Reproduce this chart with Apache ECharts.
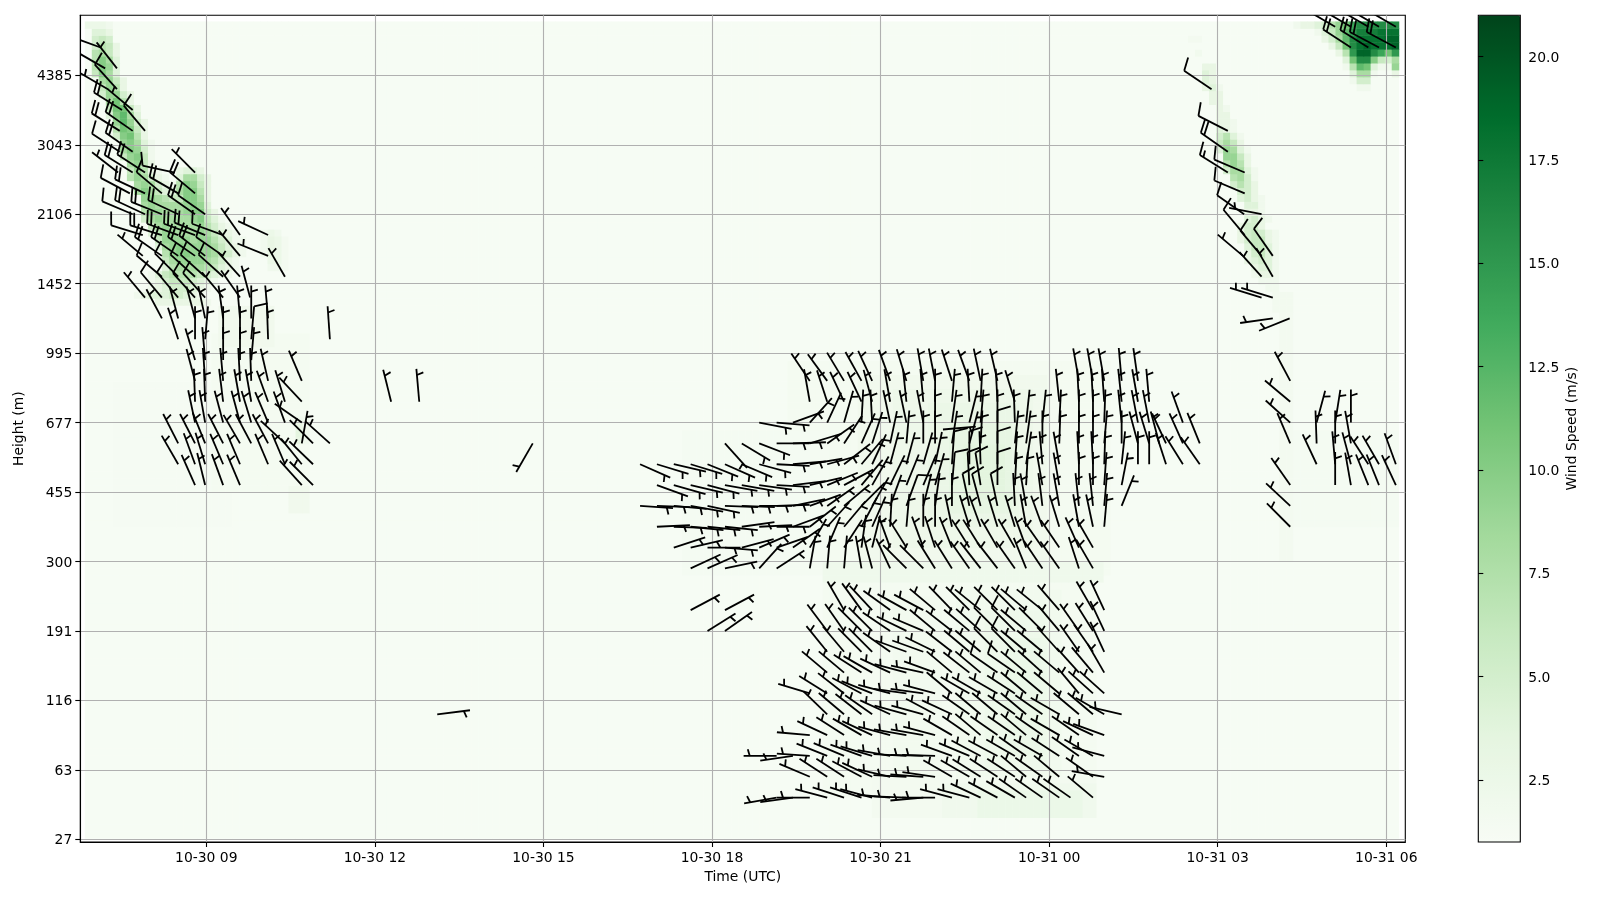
<!DOCTYPE html>
<html>
<head>
<meta charset="utf-8">
<script src="https://cdn.jsdelivr.net/npm/echarts@6/dist/echarts.min.js"></script>
<style>html,body{margin:0;padding:0;background:#fff}#c{width:1600px;height:900px}</style>
</head>
<body>
<div id="c"></div>
<script>
// ---------- tick labels ----------
const timeTicks = [9, 12, 15, 18, 21, 24, 27, 30];
const timeLabels = ['10-30 09','10-30 12','10-30 15','10-30 18','10-30 21','10-31 00','10-31 03','10-31 06'];
const heightTicks = [0,10,20,30,40,50,60,70,80,90,100,110];
const heightLabels = ['27','63','116','191','300','455','677','995','1452','2106','3043','4385'];
const speedTicks = [2.5,5,7.5,10,12.5,15,17.5,20];
const greens = ['#f7fcf5','#e5f5e0','#c7e9c0','#a1d99b','#74c476','#41ab5d','#238b45','#006d2c','#00441b'];
const baseSpeed = 1.15;

// ---------- wind speed cells: [rowFrom,rowTo,colFrom,colTo,value], faint broad areas ----------
const heatAreas = [
 [45,65,4,20,1.25],[50,72,18,31,1.45],[47,50,29,31,1.9],[71,76,19,26,1.9],
 [38,68,100,145,1.45],[38,58,85,105,1.35],[39,66,110,136,1.9],[42,64,115,134,2.3],[45,62,120,132,2.7],[47,59,123,131,3.2],[49,56,125,130,3.6],
 [37,39,105,144,2.1],[6,36,105,143,1.45],[8,34,115,121,1.7],[8,35,124,138,1.8],[10,32,128,136,2.2],[12,28,131,135,2.6],
 [3,8,112,143,1.6],[3,7,122,143,2.0],[3,6,127,141,2.6],
 [40,75,170,171,1.6],[45,58,172,186,1.35]
];
// ---------- wind speed cells: [row, firstCol, values] ----------
const heatLeft = [
 [117,0,[2.5,2.5,2.5,2]],[116,1,[4,4,3]],[115,1,[5,6,5]],[114,1,[5,7,6,3]],[113,1,[7,8,6,3]],[112,1,[7,10,8,4]],
 [111,1,[7,10,9,4]],[110,1,[6,10,8,4]],[109,2,[8,9,6,3]],[108,2,[6,9,7,3]],[107,2,[5,9,9,5,3]],[106,3,[8,11,7,3]],
 [105,3,[6,11,11,6,3]],[104,3,[4,10,12,8,4]],[103,4,[9,12,9,5,3]],[102,4,[7,11,10,6,3]],[101,4,[5,10,11,7,3]],
 [100,5,[9,10,8,4,2]],[99,5,[8,10,9,5,2]],[98,5,[6,9,10,6,2]],[97,6,[8,9,6,3]],
 [96,6,[6,9,7,3,2]],[96,13,[3,4,4,3]],[95,6,[7,9,8,5,3,2]],[95,13,[4,8,8,5,3]],
 [94,7,[8,9,8,5,3,2]],[94,13,[7,10,9,6,3]],[93,7,[8,10,8,6,4,4]],[93,13,[8,10,10,7,3]],
 [92,8,[9,9,8,7,6,6,10,10,8,3]],[91,8,[8,9,8,8,8,8,9,10,9,4]],[90,8,[7,9,9,8,8,8,9,10,10,5,3]],
 [89,8,[5,8,9,8,8,8,8,9,10,6,4,2]],[88,9,[6,8,9,8,8,8,8,9,7,5,3,2]],
 [87,9,[4,7,9,9,8,8,8,9,8,6,4,3,2]],[87,25,[2,2.5,2]],[86,10,[6,9,9,9,9,8,9,9,7,5,4,2,2]],[86,25,[2,3,2.5,1.6]],
 [85,10,[4,8,9,10,9,9,9,9,8,6,4,3,2]],[85,25,[2,3,2.5,1.6]],[84,11,[7,9,10,10,9,9,9,8,6,5,3,2]],[84,25,[2,3,2.5,1.6]],
 [83,11,[6,8,9,9,9,9,8,7,5,3,2]],[83,26,[2.5,2.5,1.6]],[82,11,[4,7,8,8,8,8,7,6,4,3,2]],[82,26,[2,2,1.6]],
 [81,9,[2,4,6,7,7,7,7,6,5,4,3,2]],[80,9,[2,3,5,6,6,6,5,4,3,2]],[79,9,[2,3,4,5,5,5,4,3,2]],
 [78,7,[2,3,4,4,4,5,5,4,3,2]],[77,10,[3,3,3,3,3,3,3,2]],[60,30,[2,1.8]],[59,30,[3,2]],[58,30,[3.5,2]],[57,30,[3,2]]
];
const heatRight = [
 [115,157,[1.6,1.6]],[113,158,[1.8]],[111,159,[3,3]],[110,159,[4,3]],[109,159,[4,3]],[108,159,[3,4,2]],[107,160,[3,3]],[106,160,[3,3]],
 [105,161,[3,2]],[104,161,[3,3]],[103,161,[3,3,2]],[102,161,[4,3,2]],[101,161,[5,7,4,2]],[100,161,[6,8,6,3]],
 [99,161,[4,9,8,4,2]],[98,162,[9,9,6,3]],[97,162,[7,9,7,3]],[96,162,[5,8,8,4,2]],[95,163,[7,8,5,2]],[94,163,[5,7,5,3]],
 [93,164,[5,5,3]],[92,164,[4,5,3,2]],[91,165,[4,4,2]],[90,165,[3,3,2]],[89,165,[4,5,3,2]],[88,164,[3,5,5,3]],
 [87,164,[3,5,6,5,3,2]],[86,164,[3,5,6,6,3,2]],[85,165,[4,6,6,4,2]],[84,165,[3,5,6,4,2]],[83,165,[3,4,5,4,2]],
 [82,166,[3,4,4,2]],[81,166,[2,3,3,2]],[80,167,[2,2,2]],[79,168,[1.8,1.8]],[78,169,[1.7,1.7,1.7]],[77,169,[1.7,1.7,1.7]],[76,169,[1.7,1.7,1.7]]
];
const heatJet = [
 [117,172,[2,3,3,4,5,7,9,11,14,16,16,16,16,16,16]],[116,175,[2,4,6,9,12,15,17,17,17,18,18,18]],
 [115,176,[3,5,8,12,16,18,18,18,18,19,19]],[114,177,[3,6,11,16,18,19,18,18,18,19]],
 [113,178,[3,7,15,19,19,16,14,11,15]],[112,179,[4,11,16,16,10,6,5,8]],[111,179,[2,7,12,11,4,2,2,9]],
 [110,180,[4,8,8,2,1.15,1.15,3]],[109,180,[2,5,5]],[108,181,[2,2]]
];

// ---------- barb times (hours since 10-30 00:00) shared by the central block ----------
const barbTimes = [16.72,17.02,17.32,17.62,17.92,18.23,18.53,18.84,19.15,19.44,19.74,20.05,20.35,20.66,20.85,21.17,21.46,21.76,21.97,22.27,22.58,22.78,23.08,23.39,23.59,23.88,24.18,24.38,24.53,24.78,24.98,25.29,25.58,25.78,25.96];
// [height row, first time index, directions]; a pair is [direction, speed], a plain number has speed 5
const _ = null;
const barbsUpper = [
 [66,10,[326,324,329,331,335,340,343,350,349,342,340,348,347,_,_,_,_,_,350,350,350,355,352]],
 [63,10,[350,342,335,335,345,350,354,355,0,5,357,3,357,343,_,_,354,_,357,357,356,354,350,355]],
 [60,7,[101,95,70,42,25,16,3,357,348,348,349,0,8,14,5,0,358,6,6,3,_,0,0,2,354,349,349]],
 [57,5,[138,121,111,90,88,73,55,33,24,18,12,5,0,0,9,15,3,[0,10],6,8,0,2,_,0,0,5,0,345,343,345]],
 [54,0,[114,107,103,107,112,114,113,105,93,85,80,75,52,40,25,15,15,16,12,[4,10],[0,10],358,[0,10],4,9,355,350,_,357,357,2,6,0,0]],
 [51,1,[110,106,103,105,100,100,98,93,83,77,68,62,40,30,26,22,23,16,[5,10],[357,10],[351,10],[0,10],3,3,350,350,_,0,0,4,11]],
 [48,0,[94,92,95,100,102,92,92,90,88,78,70,55,50,45,30,20,[20,10],14,8,0,[348,10],[345,10],[348,10],357,350,353,350,_,354,354,5,22]],
 [45,1,[87,92,96,96,96,82,87,90,70,52,42,40,28,24,3,5,0,0,348,343,340,343,343,350,340,343,_,350,348,5]],
 [42,2,[72,77,90,95,75,67,71,55,30,23,33,8,14,340,328,340,342,338,328,328,330,330,340,325,326,_,336,330]],
 [39,3,[65,66,78,_,42,57,_,10,5,5,350,345,335,315,315,328,328,325,322,322,325,338,326,325,_,342,330]]
];
const barbsLower = [
 [33,12,[330,324,317,306,299,298,310,316,315,309,315,315,310,309,319,_,_,330,335]],
 [30,11,[323,325,315,315,304,296,293,310,308,310,312,[315,10],[315,10],310,315,320,_,325,328,335]],
 [27,11,[321,320,315,315,305,290,290,296,308,310,310,[315,10],[315,10],310,310,318,_,325,325,335]],
 [24,11,[310,310,303,300,295,285,282,290,310,308,310,[305,10],[305,10],310,312,310,_,318,320,330]],
 [21,10,[287,302,308,298,292,285,278,278,285,310,300,300,300,303,310,310,310,_,320,312,312]],
 [18,11,[314,310,308,305,295,285,285,298,295,305,310,310,305,310,305,300,_,310,310,300,283]],
 [15,10,[275,295,303,300,295,285,280,280,285,300,305,310,305,305,310,305,300,_,305,295,290]],
 [12,8,[270,262,274,292,293,290,287,280,273,272,272,290,293,298,298,300,305,300,303,_,305,300,285]],
 [9,10,[293,303,303,298,295,283,273,274,278,300,300,302,303,303,310,305,310,_,_,305,280]],
 [6,8,[260,262,270,285,288,288,285,275,272,265,270,285,285,295,298,300,305,305,305,305,_,310]]
];
// ---------- barbs elsewhere: [time, height row, direction, speed] ----------
const barbsLeft = [
 [7.12,114,290,5],[7.20,111,300,10],[7.41,111,322,5],[7.25,108,300,5],[7.41,108,318,10],[7.50,105,302,20],[7.69,105,310,5],
 [7.46,102,302,20],[7.69,102,305,20],[7.91,102,320,10],[7.46,99,303,10],[7.69,99,305,20],
 [7.43,96,308,5],[7.69,96,302,20],[7.91,96,303,20],[8.44,96,282,10],[8.80,96,315,5],
 [7.64,93,298,10],[7.91,93,295,20],[8.21,93,310,10],[8.50,93,300,20],[8.80,93,310,20],
 [7.69,90,293,10],[7.91,90,295,20],[8.21,90,292,20],[8.50,90,295,20],[8.80,90,305,20],[8.98,90,305,10],
 [7.87,87,287,10],[8.21,87,287,20],[8.50,87,290,20],[8.80,87,290,20],[8.98,87,292,20],[9.30,87,290,10],[9.60,87,325,5],[10.10,87,295,5],
 [7.87,84,310,5],[8.21,84,305,20],[8.50,84,305,20],[8.80,84,305,20],[8.98,84,308,20],[9.30,84,305,10],[9.60,84,320,5],[10.10,84,292,5],
 [8.21,81,310,10],[8.50,81,315,10],[8.80,81,312,10],[8.98,81,312,10],[9.30,81,312,10],[9.60,81,318,5],[10.40,81,330,5],
 [7.91,78,320,5],[8.21,78,320,10],[8.50,78,320,10],[8.80,78,318,10],[8.98,78,318,10],[9.30,78,320,5],[9.60,78,325,5],[9.78,78,345,5],
 [8.21,75,332,5],[8.50,75,345,5],[8.80,75,345,5],[8.98,75,348,5],[9.30,75,352,5],[9.60,75,355,5],[9.80,75,0,5],[10.10,75,355,5],
 [8.50,72,342,5],[8.80,72,0,5],[8.98,72,5,5],[9.30,72,0,5],[9.60,72,0,5],[9.80,72,5,10],[10.10,72,358,5],[11.20,72,356,5],
 [8.80,69,343,5],[8.98,69,355,5],[9.30,69,0,5],[9.60,69,0,5],[9.80,69,5,5],
 [8.80,66,345,5],[8.98,66,356,5],[9.30,66,355,5],[9.60,66,357,5],[9.80,66,358,5],[10.10,66,347,5],[10.70,66,337,5],
 [8.80,63,358,5],[8.98,63,358,5],[9.30,63,353,5],[9.60,63,350,5],[9.80,63,350,5],[10.10,63,340,5],[10.40,63,343,5],[10.70,63,317,5],
 [8.80,60,348,5],[8.98,60,350,5],[9.30,60,345,5],[9.60,60,345,5],[9.80,60,343,5],[10.10,60,337,5],[10.40,60,340,5],[10.70,60,305,5],
 [8.50,57,333,5],[8.80,57,333,5],[8.98,57,338,5],[9.30,57,333,5],[9.60,57,330,5],[9.80,57,332,5],[10.10,57,332,5],[10.40,57,313,5],[10.70,57,10,5],[10.90,57,315,5],[11.20,57,312,5],
 [8.50,54,330,5],[8.80,54,340,5],[8.98,54,343,5],[9.30,54,337,5],[9.60,54,337,5],[10.10,54,337,5],[10.40,54,337,5],[10.70,54,321,5],[10.90,54,314,5],
 [8.80,51,336,5],[8.98,51,346,5],[9.30,51,340,5],[9.60,51,337,5],[10.70,51,318,5],[10.90,51,315,5]
];
const barbsRight = [
 [26.89,108,304,10],[27.18,102,297,10],[27.18,99,305,20],[27.18,96,302,15],[27.48,96,293,10],[27.48,93,293,10],[27.47,90,305,10],[27.78,90,281,5],
 [27.48,87,320,10],[27.98,84,325,10],[27.78,84,320,10],[27.45,84,310,5],[27.98,81,330,5],[27.78,81,318,5],[27.78,78,287,5],[27.98,78,287,5],[27.98,75,262,5],[28.28,75,248,5],
 [28.29,66,332,5],[28.29,63,310,5],[28.29,60,312,5],[28.29,57,337,5],[28.29,51,325,5],[28.29,48,313,5],[28.29,45,315,5],
 [28.76,60,15,5],[29.09,60,9,5],[29.37,60,0,5],[28.76,57,358,5],[29.09,57,0,5],[29.37,57,350,5],
 [28.76,54,335,5],[29.09,54,355,5],[29.37,54,345,5],[29.68,54,327,5],[29.87,54,330,5],[30.17,54,340,5],
 [29.09,51,0,5],[29.37,51,350,5],[29.68,51,338,5],[29.87,51,338,5],[30.17,51,335,5],
 [26.38,60,340,5],[26.08,57,335,5],[26.38,57,336,5],[26.68,57,338,5],[26.08,54,342,5],[26.38,54,328,5],[26.68,54,325,5]
];
const barbsJet = [
 [29.37,114,303,20],[29.68,114,302,20],[29.87,114,298,20],[30.17,114,298,20],
 [29.09,117,300,20],[29.37,117,300,20],[29.68,117,300,20],[29.87,117,300,20],[30.17,117,300,20]
];
const barbsIsolated = [
 [12.29,63,346,5],[12.79,63,355,5],[14.81,57,210,5],[13.11,18,83,5],
 [17.62,33,62,5],[18.23,33,62,5],[17.92,30,58,5],[18.23,30,55,5],[22.11,59,85,5]
];

// ---------- assemble ----------
const colCount = 187, rowCount = 118;
const colNames = Array.from({length: colCount}, (_v, i) => String(i));
const rowNames = Array.from({length: rowCount}, (_v, i) => String(i));
const grid = Array.from({length: rowCount}, () => new Array(colCount).fill(baseSpeed));
heatAreas.forEach(([r0, r1, c0, c1, v]) => { for (let r = r0; r <= r1; r++) for (let c = c0; c <= c1; c++) grid[r][c] = v; });
[heatLeft, heatRight, heatJet].forEach(list => list.forEach(([r, c0, vals]) => vals.forEach((v, i) => { if (c0 + i < colCount) grid[r][c0 + i] = v; })));
const heatData = [];
grid.forEach((row, r) => row.forEach((v, c) => heatData.push([c, r, v])));

const barbData = [];
[barbsUpper, barbsLower].forEach(block => block.forEach(([row, first, dirs]) => dirs.forEach((d, i) => {
  if (d === null) return;
  const t = barbTimes[first + i];
  if (Array.isArray(d)) barbData.push([t, row, d[0], d[1]]); else barbData.push([t, row, d, 5]);
})));
[barbsLeft, barbsRight, barbsJet, barbsIsolated].forEach(l => l.forEach(b => barbData.push(b)));

const BARB_LEN = 33;
function renderBarb(params, api) {
  const p = api.coord([api.value(0), api.value(1)]);
  const dir = api.value(2) * Math.PI / 180, spd = api.value(3);
  const dx = Math.sin(dir), dy = -Math.cos(dir);      // base to tail
  const nx = -dy, ny = dx;                            // side the feathers lie on
  const L = BARB_LEN, style = {stroke: '#000', lineWidth: 1.8, fill: null};
  const seg = (x1, y1, x2, y2) => ({type: 'line', shape: {x1, y1, x2, y2}, style});
  const children = [seg(p[0], p[1], p[0] + dx * L, p[1] + dy * L)];
  let full = Math.floor(spd / 10), half = (spd - full * 10) >= 5 ? 1 : 0;
  let off = L;
  const sp = 0.125 * L, h = 0.4 * L, w = 0.125 * L;
  if (full === 0 && half) off -= 1.5 * sp;
  for (let i = 0; i < full; i++) {
    const bx = p[0] + dx * off, by = p[1] + dy * off;
    children.push(seg(bx, by, bx + nx * h + dx * w, by + ny * h + dy * w));
    off -= sp;
  }
  if (half) {
    const bx = p[0] + dx * off, by = p[1] + dy * off;
    children.push(seg(bx, by, bx + nx * h / 2 + dx * w / 2, by + ny * h / 2 + dy * w / 2));
  }
  return {type: 'group', children};
}

const font = 'DejaVu Sans', fs = 13.9;
const tickRich = {t: {padding: [3, 0, 0, 0], color: '#000', fontSize: fs, fontFamily: font}};
const chart = echarts.init(document.getElementById('c'), null, {renderer: 'canvas'});
chart.setOption({
  animation: false,
  backgroundColor: '#fff',
  textStyle: {fontFamily: font},
  grid: [
    {left: 85, top: 21.7, width: 1314, height: 816.8, show: false},
    {left: 80.3, top: 15.3, width: 1325, height: 826.7, show: true, borderColor: '#000', borderWidth: 1.1, backgroundColor: 'transparent'},
    {left: 1478.3, top: 15.3, width: 42, height: 826.7, show: false}
  ],
  xAxis: [
    {gridIndex: 0, type: 'category', data: colNames, show: false},
    {gridIndex: 1, type: 'value', min: 6.758, max: 30.338, z: 1,
     name: 'Time (UTC)', nameLocation: 'middle', nameGap: 27, nameTextStyle: {color: '#000', fontSize: fs, fontFamily: font},
     axisLine: {show: true, onZero: false, lineStyle: {color: '#000', width: 1.1}},
     axisTick: {show: true, length: 5, customValues: timeTicks, lineStyle: {color: '#000', width: 1.1}},
     axisLabel: {show: true, margin: 9, color: '#000', fontSize: fs, fontFamily: font, customValues: timeTicks, hideOverlap: false,
       formatter: v => timeLabels[timeTicks.indexOf(v)]},
     splitLine: {show: true, lineStyle: {color: '#b0b0b0', width: 1.1}}},
    {gridIndex: 2, type: 'value', min: 0, max: 1, show: false}
  ],
  yAxis: [
    {gridIndex: 0, type: 'category', data: rowNames, show: false},
    {gridIndex: 1, type: 'value', min: -0.39, max: 118.64, z: 1,
     name: 'Height (m)', nameLocation: 'middle', nameGap: 50, nameTextStyle: {color: '#000', fontSize: fs, fontFamily: font},
     axisLine: {show: true, onZero: false, lineStyle: {color: '#000', width: 1.1}},
     axisTick: {show: true, length: 5, customValues: heightTicks, lineStyle: {color: '#000', width: 1.1}},
     axisLabel: {show: true, margin: 8, color: '#000', fontSize: fs, fontFamily: font, customValues: heightTicks, hideOverlap: false, rich: tickRich,
       formatter: v => '{t|' + heightLabels[heightTicks.indexOf(v)] + '}'},
     splitLine: {show: true, lineStyle: {color: '#b0b0b0', width: 1.1}}},
    {gridIndex: 2, type: 'value', min: 1, max: 21, position: 'right', z: 10,
     name: 'Wind Speed (m/s)', nameLocation: 'middle', nameGap: 45, nameRotate: 90, nameTextStyle: {color: '#000', fontSize: fs, fontFamily: font},
     axisLine: {show: false},
     axisTick: {show: true, length: 5, customValues: speedTicks, lineStyle: {color: '#000', width: 1.1}},
     axisLabel: {show: true, margin: 8, color: '#000', fontSize: fs, fontFamily: font, customValues: speedTicks, hideOverlap: false, rich: tickRich,
       formatter: v => '{t|' + v.toFixed(1) + '}'},
     splitLine: {show: false}}
  ],
  visualMap: {
    type: 'continuous', seriesIndex: 0, min: 1, max: 21, show: true, calculable: false, hoverLink: false,
    left: 1478.3, top: 15.3, itemWidth: 42, itemHeight: 826.7, padding: 0, text: null, showLabel: false,
    inRange: {color: greens}, z: 4
  },
  graphic: [{type: 'rect', z: 100, silent: true,
    shape: {x: 1478.3, y: 15.3, width: 42, height: 826.7}, style: {fill: null, stroke: '#000', lineWidth: 1.1}}],
  series: [
    {type: 'heatmap', xAxisIndex: 0, yAxisIndex: 0, data: heatData, z: 0, progressive: 0, silent: true,
     itemStyle: {borderWidth: 0}, emphasis: {disabled: true}},
    {type: 'custom', xAxisIndex: 1, yAxisIndex: 1, data: barbData, z: 5, clip: true, silent: true,
     renderItem: renderBarb, progressive: 0}
  ]
});
</script>
</body>
</html>
